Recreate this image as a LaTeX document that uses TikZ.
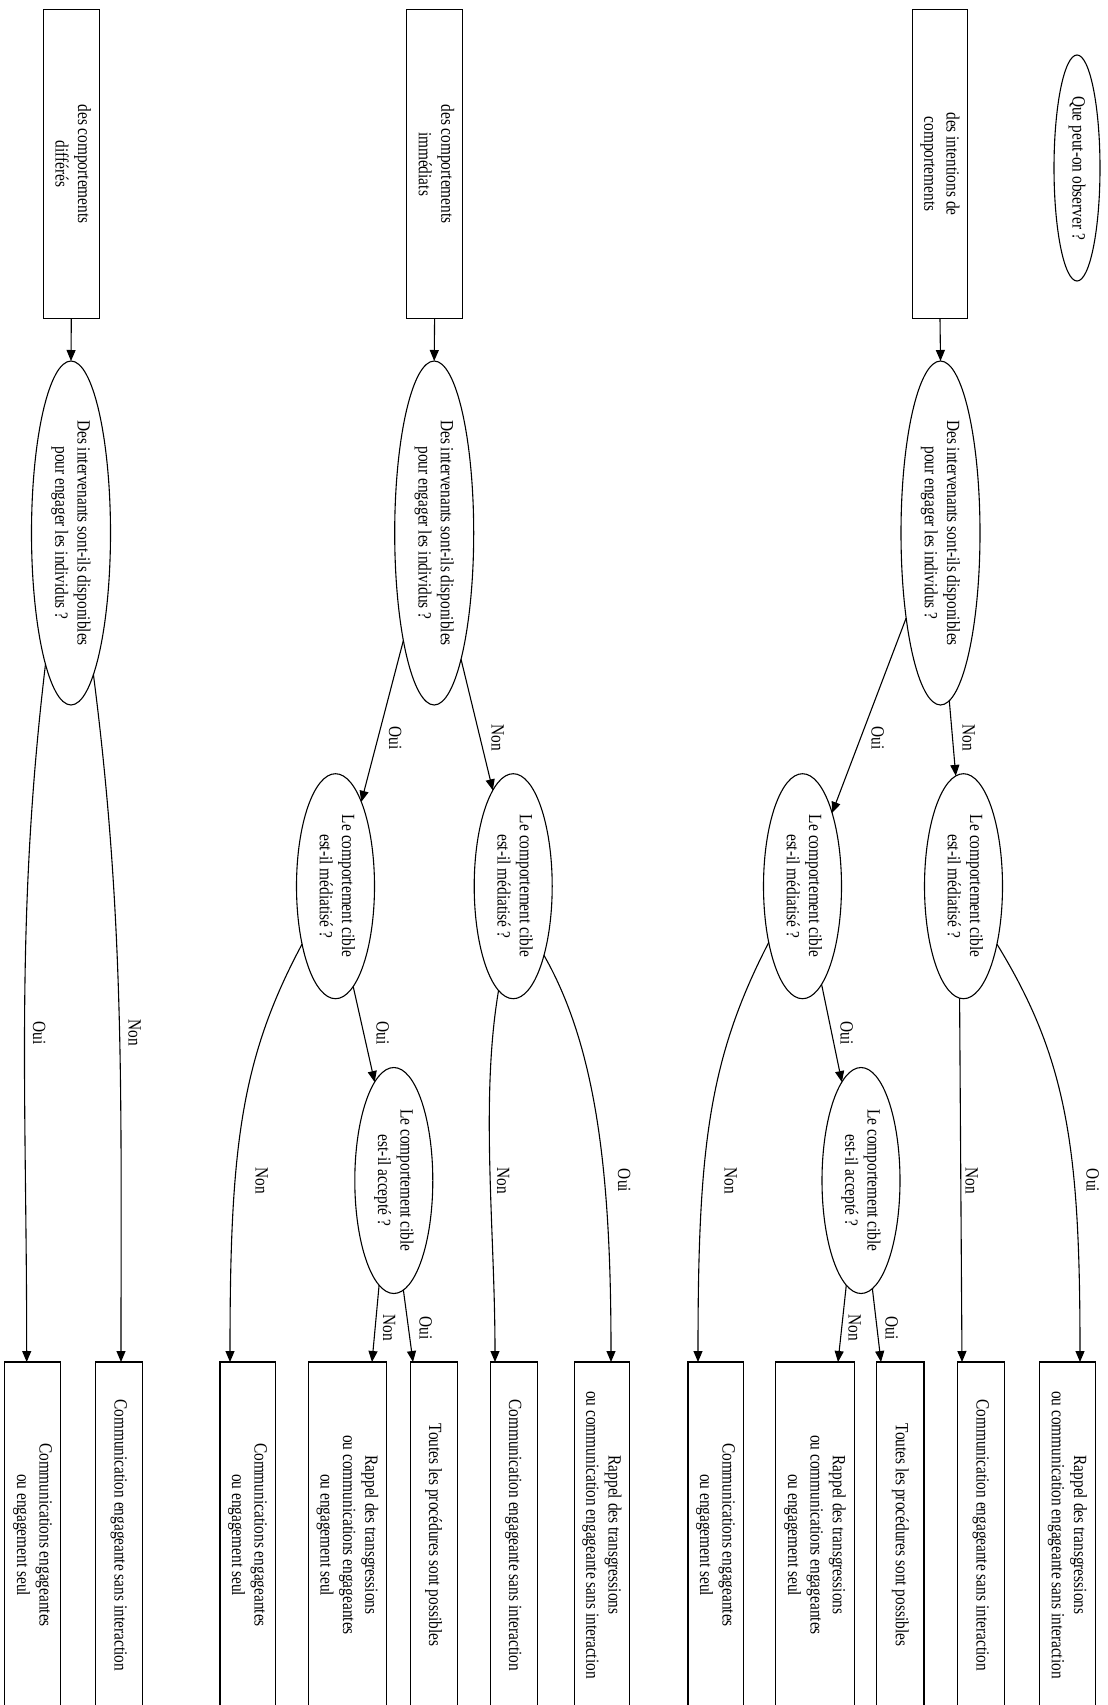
\documentclass[tikz,border=0pt]{standalone}
\usepackage{graphicx}
\usepackage{fontspec}
\setmainfont{Liberation Serif}
\usetikzlibrary{shapes.geometric,arrows.meta}

% Text set along the vertical: first line on the right, reading downwards
\newcommand{\vtext}[1]{\rotatebox{-90}{\scalebox{1.097}[1.33]{\begin{tabular}{@{}c@{}}#1\end{tabular}}}}

\tikzset{
  every node/.style={font=\fontsize{14}{16.8}\selectfont, inner sep=0pt, outer sep=0pt},
  topbox/.style={draw, line width=1.1pt, rectangle, minimum width=55.6pt, minimum height=309.4pt},
  leafbox/.style={draw, line width=1.1pt, rectangle, minimum width=#1, minimum height=346pt},
  startq/.style={draw, line width=1.1pt, ellipse, minimum width=46pt, minimum height=226pt},
  bigq/.style={draw, line width=1.1pt, ellipse, minimum width=79pt, minimum height=344pt},
  midq/.style={draw, line width=1.1pt, ellipse, minimum width=78pt, minimum height=225pt},
  conn/.style={draw, line width=1.1pt, -{Triangle[length=11pt,width=9pt]}},
  lbl/.style={}
}

\begin{document}
\begin{tikzpicture}[x=1pt, y=-1pt]
\useasboundingbox (0,0) rectangle (1108,1705);
\fill[white] (0,0) rectangle (1108,1705);
\clip (0,0) rectangle (1108,1705);

% ---- first rank
\node[startq] (que) at (1077,168) {\vtext{Que peut-on observer ?}};
\node[topbox] (bI) at (940,164) {\vtext{des intentions de\\comportements}};
\node[topbox] (bM) at (434.6,164) {\vtext{des comportements\\immédiats}};
\node[topbox] (bD) at (71.3,164) {\vtext{des comportements\\différés}};

% ---- availability questions
\node[bigq] (qI) at (940.5,533) {\vtext{Des intervenants sont-ils disponibles\\pour engager les individus ?}};
\node[bigq] (qM) at (434.2,533) {\vtext{Des intervenants sont-ils disponibles\\pour engager les individus ?}};
\node[bigq] (qD) at (71,533) {\vtext{Des intervenants sont-ils disponibles\\pour engager les individus ?}};

% ---- mediatisation questions
\node[midq] (mIn) at (963.5,886.2) {\vtext{Le comportement cible\\est-il médiatisé ?}};
\node[midq] (mIo) at (802.5,886.2) {\vtext{Le comportement cible\\est-il médiatisé ?}};
\node[midq] (mMn) at (513.2,886.2) {\vtext{Le comportement cible\\est-il médiatisé ?}};
\node[midq] (mMo) at (335.5,886.2) {\vtext{Le comportement cible\\est-il médiatisé ?}};

% ---- acceptance questions
\node[midq, minimum height=226pt] (aI) at (861,1180.5) {\vtext{Le comportement cible\\est-il accepté ?}};
\node[midq, minimum height=226pt] (aM) at (393.8,1180.5) {\vtext{Le comportement cible\\est-il accepté ?}};

% ---- outcomes
\node[leafbox=55.6pt] (o12) at (1067.5,1535) {\vtext{Rappel des transgressions\\ou communication engageante sans interaction}};
\node[leafbox=47.3pt] (o11) at (981.2,1535) {\vtext{Communication engageante sans interaction}};
\node[leafbox=47.3pt] (o10) at (900.3,1535) {\vtext{Toutes les procédures sont possibles}};
\node[leafbox=78.2pt] (o9) at (815,1535) {\vtext{Rappel des transgressions\\ou communications engageantes\\ou engagement seul}};
\node[leafbox=55.6pt] (o8) at (715.8,1535) {\vtext{Communications engageantes\\ou engagement seul}};
\node[leafbox=55.6pt] (o7) at (602,1535) {\vtext{Rappel des transgressions\\ou communication engageante sans interaction}};
\node[leafbox=47.3pt] (o6) at (513.7,1535) {\vtext{Communication engageante sans interaction}};
\node[leafbox=47.3pt] (o5) at (433.7,1535) {\vtext{Toutes les procédures sont possibles}};
\node[leafbox=78.2pt] (o4) at (347.5,1535) {\vtext{Rappel des transgressions\\ou communications engageantes\\ou engagement seul}};
\node[leafbox=55.6pt] (o3) at (247.8,1535) {\vtext{Communications engageantes\\ou engagement seul}};
\node[leafbox=47.3pt] (o2) at (119.2,1535) {\vtext{Communication engageante sans interaction}};
\node[leafbox=56pt] (o1) at (32.8,1535) {\vtext{Communications engageantes\\ou engagement seul}};

% ---- connectors: boxes to questions
\draw[conn] (bI.south) -- (qI.north);
\draw[conn] (bM.south) -- (qM.north);
\draw[conn] (bD.south) -- (qD.north);

% ---- branch "intentions"
\draw[conn] (qI.248.3) -- (mIo.68);
\draw[conn] (qI.273.6) -- (mIn.94.3);
\draw[conn] (mIo.281.4) -- (aI.101.7);
\draw[conn] (mIo.239.3) .. controls (708,1060) and (698,1150) .. ([xshift=-17.8pt]o8.north);
\draw[conn] (mIn.268.2) -- ([xshift=-19.2pt]o11.north);
\draw[conn] (mIn.300.5) .. controls (1068,1060) and (1080,1150) .. ([xshift=12.5pt]o12.north);
\draw[conn] (aI.262.5) -- ([xshift=23pt]o9.north);
\draw[conn] (aI.276.3) -- ([xshift=-19.3pt]o10.north);

% ---- branch "immediate"
\draw[conn] (qM.254.6) -- (mMo.73.8);
\draw[conn] (qM.282) -- (mMn.102.5);
\draw[conn] (mMo.280.5) -- (aM.101.4);
\draw[conn] (mMo.240.2) .. controls (240,1060) and (230,1150) .. ([xshift=-17.8pt]o3.north);
\draw[conn] (mMn.262.2) .. controls (480,1100) and (495,1230) .. ([xshift=-18.7pt]o6.north);
\draw[conn] (mMn.294.9) .. controls (598,1050) and (611,1180) .. ([xshift=9pt]o7.north);
\draw[conn] (aM.262.7) -- ([xshift=24.5pt]o4.north);
\draw[conn] (aM.275.9) -- ([xshift=-20.7pt]o5.north);

% ---- branch "deferred"
\draw[conn] (qD.259.8) .. controls (15,920) and (26.7,1100) .. ([xshift=-6.1pt]o1.north);
\draw[conn] (qD.279.8) .. controls (125,920) and (121,1100) .. ([xshift=1.8pt]o2.north);

% ---- edge labels
\node[lbl] (tI1) at (876,738) {\vtext{Oui}};
\node[lbl] (tI2) at (967,738) {\vtext{Non}};
\node[lbl] (tI3) at (845,1033) {\vtext{Oui}};
\node[lbl] (tI4) at (729,1180.5) {\vtext{Non}};
\node[lbl] (tI5) at (970,1180.5) {\vtext{Non}};
\node[lbl] (tI6) at (1091,1180.5) {\vtext{Oui}};
\node[lbl] (tI7) at (853,1328) {\vtext{Non}};
\node[lbl] (tI8) at (890,1328) {\vtext{Oui}};

\node[lbl] (tM1) at (393.5,738) {\vtext{Oui}};
\node[lbl] (tM2) at (496,738) {\vtext{Non}};
\node[lbl] (tM3) at (381,1033) {\vtext{Oui}};
\node[lbl] (tM4) at (260,1180.5) {\vtext{Non}};
\node[lbl] (tM5) at (501.7,1180.5) {\vtext{Non}};
\node[lbl] (tM6) at (622.5,1180.5) {\vtext{Oui}};
\node[lbl] (tM7) at (387.5,1328) {\vtext{Non}};
\node[lbl] (tM8) at (424,1328) {\vtext{Oui}};

\node[lbl] (tD1) at (37.5,1033) {\vtext{Oui}};
\node[lbl] (tD2) at (133,1033) {\vtext{Non}};
\end{tikzpicture}
\end{document}
